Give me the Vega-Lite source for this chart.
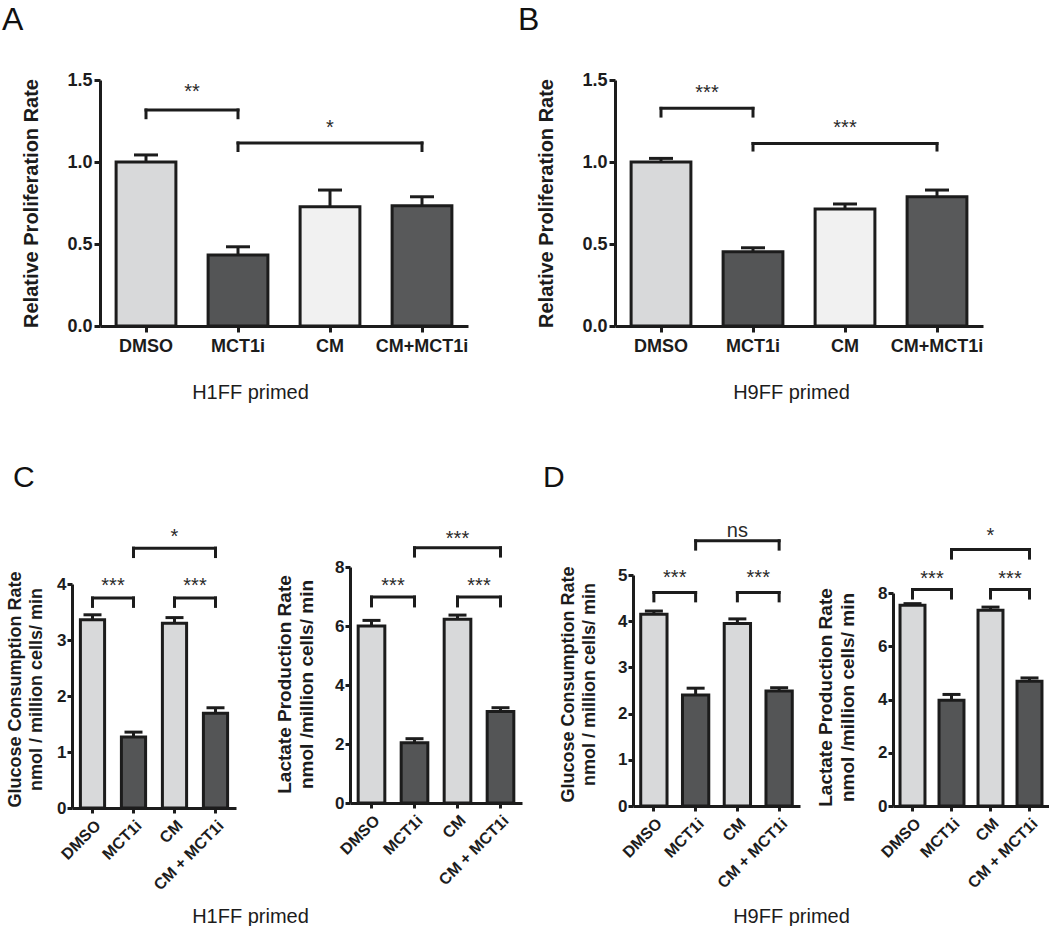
{
"$schema": "https://vega.github.io/schema/vega-lite/v6.json",
"padding": {"left": 2, "top": 4, "right": 0, "bottom": 0},
"background": "white",
"config": {
  "view": {"stroke": null},
  "font": "Liberation Sans",
  "axis": {"grid": false, "domainColor": "#1c1c1c", "domainWidth": 3, "tickColor": "#1c1c1c", "tickWidth": 3, "tickSize": 6, "labelColor": "#1c1c1c", "labelFontWeight": "bold", "labelFont": "Liberation Sans", "titleFont": "Liberation Sans", "titleColor": "#1c1c1c", "titleFontWeight": "bold", "labelPadding": 2, "labelOverlap": false},
  "title": {"font": "Liberation Sans", "color": "#111111", "fontWeight": "normal"}
},
"datasets": {
  "aBars": [{"cond": "DMSO", "mean": 1.0, "upper": 1.043}, {"cond": "MCT1i", "mean": 0.433, "upper": 0.483}, {"cond": "CM", "mean": 0.727, "upper": 0.829}, {"cond": "CM+MCT1i", "mean": 0.733, "upper": 0.788}],
  "aSig": [{"a": 0.5, "b": 1.5, "m": 1.0, "top": 1.317, "foot": 1.27, "label": "**", "ty": 1.46}, {"a": 1.5, "b": 3.5, "m": 2.5, "top": 1.116, "foot": 1.07, "label": "*", "ty": 1.238}],
  "bBars": [{"cond": "DMSO", "mean": 1.0, "upper": 1.022}, {"cond": "MCT1i", "mean": 0.453, "upper": 0.477}, {"cond": "CM", "mean": 0.713, "upper": 0.744}, {"cond": "CM+MCT1i", "mean": 0.788, "upper": 0.829}],
  "bSig": [{"a": 0.5, "b": 1.5, "m": 1.0, "top": 1.327, "foot": 1.28, "label": "***", "ty": 1.451}, {"a": 1.5, "b": 3.5, "m": 2.5, "top": 1.113, "foot": 1.073, "label": "***", "ty": 1.238}],
  "c1Bars": [{"cond": "DMSO", "mean": 3.36, "upper": 3.45}, {"cond": "MCT1i", "mean": 1.27, "upper": 1.355}, {"cond": "CM", "mean": 3.30, "upper": 3.40}, {"cond": "CM + MCT1i", "mean": 1.69, "upper": 1.79}],
  "c1Sig": [{"a": 0.5, "b": 1.5, "m": 1.0, "top": 3.75, "foot": 3.6, "label": "***", "ty": 4.06}, {"a": 2.5, "b": 3.5, "m": 3.0, "top": 3.75, "foot": 3.6, "label": "***", "ty": 4.06}, {"a": 1.5, "b": 3.5, "m": 2.5, "top": 4.64, "foot": 4.49, "label": "*", "ty": 4.92}],
  "c2Bars": [{"cond": "DMSO", "mean": 6.0, "upper": 6.19}, {"cond": "MCT1i", "mean": 2.04, "upper": 2.18}, {"cond": "CM", "mean": 6.23, "upper": 6.37}, {"cond": "CM + MCT1i", "mean": 3.10, "upper": 3.23}],
  "c2Sig": [{"a": 0.5, "b": 1.5, "m": 1.0, "top": 6.98, "foot": 6.68, "label": "***", "ty": 7.53}, {"a": 2.5, "b": 3.5, "m": 3.0, "top": 6.98, "foot": 6.68, "label": "***", "ty": 7.53}, {"a": 1.5, "b": 3.5, "m": 2.5, "top": 8.65, "foot": 8.37, "label": "***", "ty": 9.13}],
  "d1Bars": [{"cond": "DMSO", "mean": 4.15, "upper": 4.22}, {"cond": "MCT1i", "mean": 2.40, "upper": 2.55}, {"cond": "CM", "mean": 3.95, "upper": 4.05}, {"cond": "CM + MCT1i", "mean": 2.49, "upper": 2.56}],
  "d1Sig": [{"a": 0.5, "b": 1.5, "m": 1.0, "top": 4.62, "foot": 4.44, "label": "***", "ty": 5.05}, {"a": 2.5, "b": 3.5, "m": 3.0, "top": 4.62, "foot": 4.44, "label": "***", "ty": 5.05}, {"a": 1.5, "b": 3.5, "m": 2.5, "top": 5.74, "foot": 5.56, "label": "ns", "ty": 6.06}],
  "d2Bars": [{"cond": "DMSO", "mean": 7.54, "upper": 7.6}, {"cond": "MCT1i", "mean": 3.97, "upper": 4.19}, {"cond": "CM", "mean": 7.35, "upper": 7.47}, {"cond": "CM + MCT1i", "mean": 4.69, "upper": 4.81}],
  "d2Sig": [{"a": 0.5, "b": 1.5, "m": 1.0, "top": 8.13, "foot": 7.81, "label": "***", "ty": 8.71}, {"a": 2.5, "b": 3.5, "m": 3.0, "top": 8.13, "foot": 7.81, "label": "***", "ty": 8.71}, {"a": 1.5, "b": 3.5, "m": 2.5, "top": 9.63, "foot": 9.31, "label": "*", "ty": 10.31}]
},
"vconcat": [
 {"hconcat": [
 {"width": 1, "height": 1, "data": {"values": []}, "mark": "point"},
 {
  "width": 368, "height": 246,
  "title": {"text": "A", "anchor": "start", "frame": "group", "dx": -98, "offset": 9, "fontSize": 32, "baseline": "alphabetic"},
  "layer": [
   {"data": {"name": "aBars"}, "mark": {"type": "bar", "stroke": "#1c1c1c", "strokeWidth": 3},
    "encoding": {
     "x": {"field": "cond", "type": "nominal", "sort": null, "scale": {"domain": ["DMSO", "MCT1i", "CM", "CM+MCT1i"], "paddingInner": 0.35, "paddingOuter": 0.175},
           "axis": {"title": "H1FF primed", "labelAngle": 0, "labelFontSize": 18, "labelPadding": 5, "titleFontSize": 20, "titleFontWeight": "normal", "titleX": 150, "titleY": 72, "titleBaseline": "alphabetic", "titleAlign": "center"}},
     "y": {"field": "mean", "type": "quantitative", "scale": {"domain": [0, 1.5], "nice": false},
           "axis": {"title": "Relative Proliferation Rate", "values": [0, 0.5, 1, 1.5], "format": ".1f", "labelFontSize": 18, "titleFontSize": 20, "titleX": -59, "titleBaseline": "bottom"}},
     "color": {"field": "cond", "type": "nominal", "scale": {"domain": ["DMSO", "MCT1i", "CM", "CM+MCT1i"], "range": ["#d8d9da", "#545556", "#f1f1f1", "#58595a"]}, "legend": null}
    }},
   {"data": {"name": "aBars"}, "mark": {"type": "rule", "strokeWidth": 3, "color": "#1c1c1c"},
    "encoding": {
     "x": {"field": "cond", "type": "nominal", "sort": null, "scale": {"domain": ["DMSO", "MCT1i", "CM", "CM+MCT1i"], "paddingInner": 0.35, "paddingOuter": 0.175}, "axis": null},
     "y": {"field": "mean", "type": "quantitative", "scale": {"domain": [0, 1.5], "nice": false}},
     "y2": {"field": "upper"}}},
   {"data": {"name": "aBars"}, "mark": {"type": "tick", "size": 24, "thickness": 3, "color": "#1c1c1c", "opacity": 1},
    "encoding": {
     "x": {"field": "cond", "type": "nominal", "sort": null, "scale": {"domain": ["DMSO", "MCT1i", "CM", "CM+MCT1i"], "paddingInner": 0.35, "paddingOuter": 0.175}, "axis": null},
     "y": {"field": "upper", "type": "quantitative", "scale": {"domain": [0, 1.5], "nice": false}}}},
   {"data": {"name": "aSig"}, "mark": {"type": "rule", "strokeWidth": 3, "color": "#1c1c1c", "strokeCap": "square"},
    "encoding": {
     "x": {"field": "a", "type": "quantitative", "scale": {"domain": [0, 4], "nice": false, "zero": false}, "axis": null},
     "x2": {"field": "b"},
     "y": {"field": "top", "type": "quantitative", "scale": {"domain": [0, 1.5], "nice": false}}}},
   {"data": {"name": "aSig"}, "transform": [{"fold": ["a", "b"], "as": ["end", "xe"]}],
    "mark": {"type": "rule", "strokeWidth": 3, "color": "#1c1c1c", "strokeCap": "square"},
    "encoding": {
     "x": {"field": "xe", "type": "quantitative", "scale": {"domain": [0, 4], "nice": false, "zero": false}, "axis": null},
     "y": {"field": "top", "type": "quantitative", "scale": {"domain": [0, 1.5], "nice": false}},
     "y2": {"field": "foot"}}},
   {"data": {"name": "aSig"}, "mark": {"type": "text", "fontSize": 20, "baseline": "middle", "dy": 5, "color": "#2a2a2a"},
    "encoding": {
     "x": {"field": "m", "type": "quantitative", "scale": {"domain": [0, 4], "nice": false, "zero": false}, "axis": null},
     "y": {"field": "ty", "type": "quantitative", "scale": {"domain": [0, 1.5], "nice": false}},
     "text": {"field": "label"}}}
  ],
  "resolve": {"scale": {"x": "independent"}}
 },
 {"width": 93, "height": 1, "data": {"values": []}, "mark": "point"},
 {
  "width": 368, "height": 246,
  "title": {"text": "B", "anchor": "start", "frame": "group", "dx": -97, "offset": 9, "fontSize": 32, "baseline": "alphabetic"},
  "layer": [
   {"data": {"name": "bBars"}, "mark": {"type": "bar", "stroke": "#1c1c1c", "strokeWidth": 3},
    "encoding": {
     "x": {"field": "cond", "type": "nominal", "sort": null, "scale": {"domain": ["DMSO", "MCT1i", "CM", "CM+MCT1i"], "paddingInner": 0.35, "paddingOuter": 0.175},
           "axis": {"title": "H9FF primed", "labelAngle": 0, "labelFontSize": 18, "labelPadding": 5, "titleFontSize": 20, "titleFontWeight": "normal", "titleX": 176, "titleY": 72, "titleBaseline": "alphabetic", "titleAlign": "center"}},
     "y": {"field": "mean", "type": "quantitative", "scale": {"domain": [0, 1.5], "nice": false},
           "axis": {"title": "Relative Proliferation Rate", "values": [0, 0.5, 1, 1.5], "format": ".1f", "labelFontSize": 18, "titleFontSize": 20, "titleX": -59, "titleBaseline": "bottom"}},
     "color": {"field": "cond", "type": "nominal", "scale": {"domain": ["DMSO", "MCT1i", "CM", "CM+MCT1i"], "range": ["#d8d9da", "#545556", "#f1f1f1", "#58595a"]}, "legend": null}
    }},
   {"data": {"name": "bBars"}, "mark": {"type": "rule", "strokeWidth": 3, "color": "#1c1c1c"},
    "encoding": {
     "x": {"field": "cond", "type": "nominal", "sort": null, "scale": {"domain": ["DMSO", "MCT1i", "CM", "CM+MCT1i"], "paddingInner": 0.35, "paddingOuter": 0.175}, "axis": null},
     "y": {"field": "mean", "type": "quantitative", "scale": {"domain": [0, 1.5], "nice": false}},
     "y2": {"field": "upper"}}},
   {"data": {"name": "bBars"}, "mark": {"type": "tick", "size": 24, "thickness": 3, "color": "#1c1c1c", "opacity": 1},
    "encoding": {
     "x": {"field": "cond", "type": "nominal", "sort": null, "scale": {"domain": ["DMSO", "MCT1i", "CM", "CM+MCT1i"], "paddingInner": 0.35, "paddingOuter": 0.175}, "axis": null},
     "y": {"field": "upper", "type": "quantitative", "scale": {"domain": [0, 1.5], "nice": false}}}},
   {"data": {"name": "bSig"}, "mark": {"type": "rule", "strokeWidth": 3, "color": "#1c1c1c", "strokeCap": "square"},
    "encoding": {
     "x": {"field": "a", "type": "quantitative", "scale": {"domain": [0, 4], "nice": false, "zero": false}, "axis": null},
     "x2": {"field": "b"},
     "y": {"field": "top", "type": "quantitative", "scale": {"domain": [0, 1.5], "nice": false}}}},
   {"data": {"name": "bSig"}, "transform": [{"fold": ["a", "b"], "as": ["end", "xe"]}],
    "mark": {"type": "rule", "strokeWidth": 3, "color": "#1c1c1c", "strokeCap": "square"},
    "encoding": {
     "x": {"field": "xe", "type": "quantitative", "scale": {"domain": [0, 4], "nice": false, "zero": false}, "axis": null},
     "y": {"field": "top", "type": "quantitative", "scale": {"domain": [0, 1.5], "nice": false}},
     "y2": {"field": "foot"}}},
   {"data": {"name": "bSig"}, "mark": {"type": "text", "fontSize": 20, "baseline": "middle", "dy": 5, "color": "#2a2a2a"},
    "encoding": {
     "x": {"field": "m", "type": "quantitative", "scale": {"domain": [0, 4], "nice": false, "zero": false}, "axis": null},
     "y": {"field": "ty", "type": "quantitative", "scale": {"domain": [0, 1.5], "nice": false}},
     "text": {"field": "label"}}}
  ],
  "resolve": {"scale": {"x": "independent"}}
 }
 ], "spacing": 27, "bounds": "flush"},
 {"hconcat": [
 {
  "width": 164, "height": 241,
  "title": {"text": "C", "anchor": "start", "frame": "group", "dx": -59, "offset": 10, "fontSize": 30, "baseline": "alphabetic"},
  "layer": [
   {"data": {"name": "c1Bars"}, "mark": {"type": "bar", "stroke": "#1c1c1c", "strokeWidth": 3},
    "encoding": {
     "x": {"field": "cond", "type": "nominal", "sort": null, "scale": {"domain": ["DMSO", "MCT1i", "CM", "CM + MCT1i"], "paddingInner": 0.41, "paddingOuter": 0.205},
           "axis": {"title": "H1FF primed", "labelAngle": -45, "labelAlign": "right", "labelBaseline": "top", "labelFontSize": 16, "labelPadding": 4, "tickSize": 5, "titleFontSize": 20, "titleFontWeight": "normal", "titleX": 178, "titleY": 114, "titleBaseline": "alphabetic", "titleAlign": "center"}},
     "y": {"field": "mean", "type": "quantitative", "scale": {"domain": [0, 4], "nice": false, "range": [241, 17]},
           "axis": {"title": ["Glucose Consumption Rate", "nmol / million cells/ min"], "values": [0, 1, 2, 3, 4], "format": "d", "labelFontSize": 17, "tickSize": 5, "labelPadding": 1, "titleFontSize": 18, "titleLineHeight": 21, "titleX": -48, "titleY": 122, "titleBaseline": "bottom"}},
     "color": {"field": "cond", "type": "nominal", "scale": {"domain": ["DMSO", "MCT1i", "CM", "CM + MCT1i"], "range": ["#d8d9da", "#545556", "#d8d9da", "#545556"]}, "legend": null}
    }},
   {"data": {"name": "c1Bars"}, "mark": {"type": "rule", "strokeWidth": 3, "color": "#1c1c1c"},
    "encoding": {
     "x": {"field": "cond", "type": "nominal", "sort": null, "scale": {"domain": ["DMSO", "MCT1i", "CM", "CM + MCT1i"], "paddingInner": 0.41, "paddingOuter": 0.205}, "axis": null},
     "y": {"field": "mean", "type": "quantitative", "scale": {"domain": [0, 4], "nice": false, "range": [241, 17]}},
     "y2": {"field": "upper"}}},
   {"data": {"name": "c1Bars"}, "mark": {"type": "tick", "size": 18, "thickness": 3, "color": "#1c1c1c", "opacity": 1},
    "encoding": {
     "x": {"field": "cond", "type": "nominal", "sort": null, "scale": {"domain": ["DMSO", "MCT1i", "CM", "CM + MCT1i"], "paddingInner": 0.41, "paddingOuter": 0.205}, "axis": null},
     "y": {"field": "upper", "type": "quantitative", "scale": {"domain": [0, 4], "nice": false, "range": [241, 17]}}}},
   {"data": {"name": "c1Sig"}, "mark": {"type": "rule", "strokeWidth": 3, "color": "#1c1c1c", "strokeCap": "square"},
    "encoding": {
     "x": {"field": "a", "type": "quantitative", "scale": {"domain": [0, 4], "nice": false, "zero": false}, "axis": null},
     "x2": {"field": "b"},
     "y": {"field": "top", "type": "quantitative", "scale": {"domain": [0, 4], "nice": false, "range": [241, 17]}}}},
   {"data": {"name": "c1Sig"}, "transform": [{"fold": ["a", "b"], "as": ["end", "xe"]}],
    "mark": {"type": "rule", "strokeWidth": 3, "color": "#1c1c1c", "strokeCap": "square"},
    "encoding": {
     "x": {"field": "xe", "type": "quantitative", "scale": {"domain": [0, 4], "nice": false, "zero": false}, "axis": null},
     "y": {"field": "top", "type": "quantitative", "scale": {"domain": [0, 4], "nice": false, "range": [241, 17]}},
     "y2": {"field": "foot"}}},
   {"data": {"name": "c1Sig"}, "mark": {"type": "text", "fontSize": 20, "baseline": "middle", "dy": 5, "color": "#2a2a2a"},
    "encoding": {
     "x": {"field": "m", "type": "quantitative", "scale": {"domain": [0, 4], "nice": false, "zero": false}, "axis": null},
     "y": {"field": "ty", "type": "quantitative", "scale": {"domain": [0, 4], "nice": false, "range": [241, 17]}},
     "text": {"field": "label"}}}
  ],
  "resolve": {"scale": {"x": "independent"}}
 },
 {"width": 94, "height": 1, "data": {"values": []}, "mark": "point"},
 {
  "width": 172, "height": 236,
  "layer": [
   {"data": {"name": "c2Bars"}, "mark": {"type": "bar", "stroke": "#1c1c1c", "strokeWidth": 3},
    "encoding": {
     "x": {"field": "cond", "type": "nominal", "sort": null, "scale": {"domain": ["DMSO", "MCT1i", "CM", "CM + MCT1i"], "paddingInner": 0.38, "paddingOuter": 0.19},
           "axis": {"title": null, "labelAngle": -45, "labelAlign": "right", "labelBaseline": "top", "labelFontSize": 16, "labelPadding": 4, "tickSize": 5}},
     "y": {"field": "mean", "type": "quantitative", "scale": {"domain": [0, 8], "nice": false},
           "axis": {"title": ["Lactate Production Rate", "nmol /million cells/ min"], "values": [0, 2, 4, 6, 8], "format": "d", "labelFontSize": 17, "tickSize": 5, "labelPadding": 1, "titleFontSize": 19, "titleLineHeight": 22, "titleX": -56, "titleY": 117, "titleBaseline": "bottom"}},
     "color": {"field": "cond", "type": "nominal", "scale": {"domain": ["DMSO", "MCT1i", "CM", "CM + MCT1i"], "range": ["#d8d9da", "#545556", "#d8d9da", "#545556"]}, "legend": null}
    }},
   {"data": {"name": "c2Bars"}, "mark": {"type": "rule", "strokeWidth": 3, "color": "#1c1c1c"},
    "encoding": {
     "x": {"field": "cond", "type": "nominal", "sort": null, "scale": {"domain": ["DMSO", "MCT1i", "CM", "CM + MCT1i"], "paddingInner": 0.38, "paddingOuter": 0.19}, "axis": null},
     "y": {"field": "mean", "type": "quantitative", "scale": {"domain": [0, 8], "nice": false}},
     "y2": {"field": "upper"}}},
   {"data": {"name": "c2Bars"}, "mark": {"type": "tick", "size": 18, "thickness": 3, "color": "#1c1c1c", "opacity": 1},
    "encoding": {
     "x": {"field": "cond", "type": "nominal", "sort": null, "scale": {"domain": ["DMSO", "MCT1i", "CM", "CM + MCT1i"], "paddingInner": 0.38, "paddingOuter": 0.19}, "axis": null},
     "y": {"field": "upper", "type": "quantitative", "scale": {"domain": [0, 8], "nice": false}}}},
   {"data": {"name": "c2Sig"}, "mark": {"type": "rule", "strokeWidth": 3, "color": "#1c1c1c", "strokeCap": "square"},
    "encoding": {
     "x": {"field": "a", "type": "quantitative", "scale": {"domain": [0, 4], "nice": false, "zero": false}, "axis": null},
     "x2": {"field": "b"},
     "y": {"field": "top", "type": "quantitative", "scale": {"domain": [0, 8], "nice": false}}}},
   {"data": {"name": "c2Sig"}, "transform": [{"fold": ["a", "b"], "as": ["end", "xe"]}],
    "mark": {"type": "rule", "strokeWidth": 3, "color": "#1c1c1c", "strokeCap": "square"},
    "encoding": {
     "x": {"field": "xe", "type": "quantitative", "scale": {"domain": [0, 4], "nice": false, "zero": false}, "axis": null},
     "y": {"field": "top", "type": "quantitative", "scale": {"domain": [0, 8], "nice": false}},
     "y2": {"field": "foot"}}},
   {"data": {"name": "c2Sig"}, "mark": {"type": "text", "fontSize": 20, "baseline": "middle", "dy": 5, "color": "#2a2a2a"},
    "encoding": {
     "x": {"field": "m", "type": "quantitative", "scale": {"domain": [0, 4], "nice": false, "zero": false}, "axis": null},
     "y": {"field": "ty", "type": "quantitative", "scale": {"domain": [0, 8], "nice": false}},
     "text": {"field": "label"}}}
  ],
  "resolve": {"scale": {"x": "independent"}}
 },
 {"width": 91, "height": 1, "data": {"values": []}, "mark": "point"},
 {
  "width": 167, "height": 239,
  "title": {"text": "D", "anchor": "start", "frame": "group", "dx": -90, "offset": 4, "fontSize": 30, "baseline": "alphabetic"},
  "layer": [
   {"data": {"name": "d1Bars"}, "mark": {"type": "bar", "stroke": "#1c1c1c", "strokeWidth": 3},
    "encoding": {
     "x": {"field": "cond", "type": "nominal", "sort": null, "scale": {"domain": ["DMSO", "MCT1i", "CM", "CM + MCT1i"], "paddingInner": 0.37, "paddingOuter": 0.185},
           "axis": {"title": "H9FF primed", "labelAngle": -45, "labelAlign": "right", "labelBaseline": "top", "labelFontSize": 16, "labelPadding": 4, "tickSize": 5, "titleFontSize": 20, "titleFontWeight": "normal", "titleX": 158, "titleY": 116, "titleBaseline": "alphabetic", "titleAlign": "center"}},
     "y": {"field": "mean", "type": "quantitative", "scale": {"domain": [0, 5], "nice": false, "range": [239, 8]},
           "axis": {"title": ["Glucose Consumption Rate", "nmol / million cells/ min"], "values": [0, 1, 2, 3, 4, 5], "format": "d", "labelFontSize": 17, "tickSize": 5, "labelPadding": 1, "titleFontSize": 18, "titleLineHeight": 21, "titleX": -56, "titleY": 117, "titleBaseline": "bottom"}},
     "color": {"field": "cond", "type": "nominal", "scale": {"domain": ["DMSO", "MCT1i", "CM", "CM + MCT1i"], "range": ["#d8d9da", "#545556", "#d8d9da", "#545556"]}, "legend": null}
    }},
   {"data": {"name": "d1Bars"}, "mark": {"type": "rule", "strokeWidth": 3, "color": "#1c1c1c"},
    "encoding": {
     "x": {"field": "cond", "type": "nominal", "sort": null, "scale": {"domain": ["DMSO", "MCT1i", "CM", "CM + MCT1i"], "paddingInner": 0.37, "paddingOuter": 0.185}, "axis": null},
     "y": {"field": "mean", "type": "quantitative", "scale": {"domain": [0, 5], "nice": false, "range": [239, 8]}},
     "y2": {"field": "upper"}}},
   {"data": {"name": "d1Bars"}, "mark": {"type": "tick", "size": 18, "thickness": 3, "color": "#1c1c1c", "opacity": 1},
    "encoding": {
     "x": {"field": "cond", "type": "nominal", "sort": null, "scale": {"domain": ["DMSO", "MCT1i", "CM", "CM + MCT1i"], "paddingInner": 0.37, "paddingOuter": 0.185}, "axis": null},
     "y": {"field": "upper", "type": "quantitative", "scale": {"domain": [0, 5], "nice": false, "range": [239, 8]}}}},
   {"data": {"name": "d1Sig"}, "mark": {"type": "rule", "strokeWidth": 3, "color": "#1c1c1c", "strokeCap": "square"},
    "encoding": {
     "x": {"field": "a", "type": "quantitative", "scale": {"domain": [0, 4], "nice": false, "zero": false}, "axis": null},
     "x2": {"field": "b"},
     "y": {"field": "top", "type": "quantitative", "scale": {"domain": [0, 5], "nice": false, "range": [239, 8]}}}},
   {"data": {"name": "d1Sig"}, "transform": [{"fold": ["a", "b"], "as": ["end", "xe"]}],
    "mark": {"type": "rule", "strokeWidth": 3, "color": "#1c1c1c", "strokeCap": "square"},
    "encoding": {
     "x": {"field": "xe", "type": "quantitative", "scale": {"domain": [0, 4], "nice": false, "zero": false}, "axis": null},
     "y": {"field": "top", "type": "quantitative", "scale": {"domain": [0, 5], "nice": false, "range": [239, 8]}},
     "y2": {"field": "foot"}}},
   {"data": {"name": "d1Sig"}, "mark": {"type": "text", "fontSize": 20, "baseline": "middle", "dy": 5, "color": "#2a2a2a"},
    "encoding": {
     "x": {"field": "m", "type": "quantitative", "scale": {"domain": [0, 4], "nice": false, "zero": false}, "axis": null},
     "y": {"field": "ty", "type": "quantitative", "scale": {"domain": [0, 5], "nice": false, "range": [239, 8]}},
     "text": {"field": "label"}}}
  ],
  "resolve": {"scale": {"x": "independent"}}
 },
 {"width": 73, "height": 1, "data": {"values": []}, "mark": "point"},
 {
  "width": 156, "height": 239,
  "layer": [
   {"data": {"name": "d2Bars"}, "mark": {"type": "bar", "stroke": "#1c1c1c", "strokeWidth": 3},
    "encoding": {
     "x": {"field": "cond", "type": "nominal", "sort": null, "scale": {"domain": ["DMSO", "MCT1i", "CM", "CM + MCT1i"], "paddingInner": 0.36, "paddingOuter": 0.18},
           "axis": {"title": null, "labelAngle": -45, "labelAlign": "right", "labelBaseline": "top", "labelFontSize": 16, "labelPadding": 4, "tickSize": 5}},
     "y": {"field": "mean", "type": "quantitative", "scale": {"domain": [0, 8], "nice": false, "range": [239, 26]},
           "axis": {"title": ["Lactate Production Rate", "nmol /million cells/ min"], "values": [0, 2, 4, 6, 8], "format": "d", "labelFontSize": 17, "tickSize": 5, "labelPadding": 1, "titleFontSize": 19, "titleLineHeight": 22, "titleX": -58, "titleY": 130, "titleBaseline": "bottom"}},
     "color": {"field": "cond", "type": "nominal", "scale": {"domain": ["DMSO", "MCT1i", "CM", "CM + MCT1i"], "range": ["#d8d9da", "#545556", "#d8d9da", "#545556"]}, "legend": null}
    }},
   {"data": {"name": "d2Bars"}, "mark": {"type": "rule", "strokeWidth": 3, "color": "#1c1c1c"},
    "encoding": {
     "x": {"field": "cond", "type": "nominal", "sort": null, "scale": {"domain": ["DMSO", "MCT1i", "CM", "CM + MCT1i"], "paddingInner": 0.36, "paddingOuter": 0.18}, "axis": null},
     "y": {"field": "mean", "type": "quantitative", "scale": {"domain": [0, 8], "nice": false, "range": [239, 26]}},
     "y2": {"field": "upper"}}},
   {"data": {"name": "d2Bars"}, "mark": {"type": "tick", "size": 18, "thickness": 3, "color": "#1c1c1c", "opacity": 1},
    "encoding": {
     "x": {"field": "cond", "type": "nominal", "sort": null, "scale": {"domain": ["DMSO", "MCT1i", "CM", "CM + MCT1i"], "paddingInner": 0.36, "paddingOuter": 0.18}, "axis": null},
     "y": {"field": "upper", "type": "quantitative", "scale": {"domain": [0, 8], "nice": false, "range": [239, 26]}}}},
   {"data": {"name": "d2Sig"}, "mark": {"type": "rule", "strokeWidth": 3, "color": "#1c1c1c", "strokeCap": "square"},
    "encoding": {
     "x": {"field": "a", "type": "quantitative", "scale": {"domain": [0, 4], "nice": false, "zero": false}, "axis": null},
     "x2": {"field": "b"},
     "y": {"field": "top", "type": "quantitative", "scale": {"domain": [0, 8], "nice": false, "range": [239, 26]}}}},
   {"data": {"name": "d2Sig"}, "transform": [{"fold": ["a", "b"], "as": ["end", "xe"]}],
    "mark": {"type": "rule", "strokeWidth": 3, "color": "#1c1c1c", "strokeCap": "square"},
    "encoding": {
     "x": {"field": "xe", "type": "quantitative", "scale": {"domain": [0, 4], "nice": false, "zero": false}, "axis": null},
     "y": {"field": "top", "type": "quantitative", "scale": {"domain": [0, 8], "nice": false, "range": [239, 26]}},
     "y2": {"field": "foot"}}},
   {"data": {"name": "d2Sig"}, "mark": {"type": "text", "fontSize": 20, "baseline": "middle", "dy": 5, "color": "#2a2a2a"},
    "encoding": {
     "x": {"field": "m", "type": "quantitative", "scale": {"domain": [0, 4], "nice": false, "zero": false}, "axis": null},
     "y": {"field": "ty", "type": "quantitative", "scale": {"domain": [0, 8], "nice": false, "range": [239, 26]}},
     "text": {"field": "label"}}}
  ],
  "resolve": {"scale": {"x": "independent"}}
 }
 ], "spacing": 10, "bounds": "flush"}
],
"spacing": 61,
"resolve": {"scale": {"color": "independent"}}
}
